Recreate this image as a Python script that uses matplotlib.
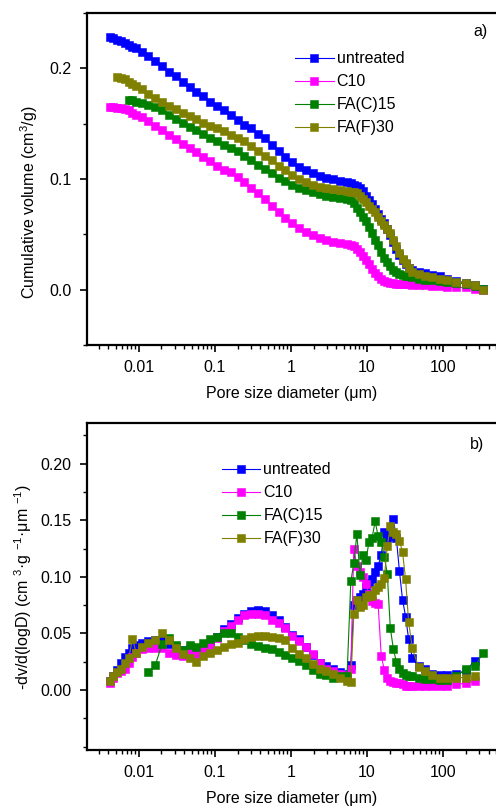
import numpy as np
import matplotlib
matplotlib.use('Agg')
import matplotlib.pyplot as plt
from matplotlib.ticker import FixedLocator, FixedFormatter, LogLocator, MultipleLocator, NullFormatter

plt.rcParams['font.family'] = ['Liberation Sans', 'DejaVu Sans']
plt.rcParams['mathtext.fontset'] = 'custom'
plt.rcParams['mathtext.rm'] = 'Liberation Sans'
plt.rcParams['mathtext.it'] = 'Liberation Sans:italic'

nan = np.nan

# pore diameters (um), shared by all samples
diam = [0.00417, 0.00468, 0.00525, 0.00589, 0.00661, 0.00741, 0.00832, 0.00933,
        0.01096, 0.01349, 0.0166, 0.0204, 0.0251, 0.0309, 0.0380, 0.0468, 0.0575, 0.0708,
        0.0871, 0.107, 0.132, 0.162, 0.200, 0.245, 0.302, 0.372, 0.457, 0.562,
        0.692, 0.851, 1.05, 1.29, 1.58, 1.95, 2.40, 2.95, 3.63, 4.47, 5.50,
        6.17, 6.76, 7.41, 8.13, 8.91, 9.77, 10.7, 11.7, 12.9, 14.1, 15.5, 17.0,
        18.6, 20.4, 22.4, 24.5, 26.9, 29.5, 32.4, 35.5, 39.8,
        47.9, 58.9, 72.4, 91.2, 115, 151, 200, 263, 339]

labels = ['untreated', 'C10', 'FA(C)15', 'FA(F)30']
colors = ['#0000FF', '#FF00FF', '#008000', '#808000']

# a) cumulative volume (cm3/g)
cum_untreated = [0.228, 0.227, 0.226, 0.225, 0.223, 0.221, 0.219, 0.218,
                 0.215, 0.211, 0.207, 0.202, 0.197, 0.193, 0.188, 0.183, 0.179, 0.175,
                 0.170, 0.166, 0.162, 0.158, 0.153, 0.149, 0.146, 0.141, 0.137, 0.131,
                 0.125, 0.120, 0.115, 0.111, 0.108, 0.105, 0.103, 0.101, 0.100, 0.098, 0.097,
                 0.096, 0.095, 0.094, 0.092, 0.089, 0.085, 0.081, 0.077, 0.073, 0.068, 0.064,
                 0.060, 0.055, 0.049, 0.043, 0.037, 0.031, 0.027, 0.023, 0.020, 0.018,
                 0.016, 0.015, 0.013, 0.012, 0.010, 0.008, 0.006, 0.004, 0.001]
cum_c10 = [0.165, 0.165, 0.164, 0.164, 0.163, 0.162, 0.160, 0.158,
           0.156, 0.152, 0.148, 0.144, 0.140, 0.136, 0.132, 0.128, 0.124, 0.120,
           0.116, 0.112, 0.108, 0.106, 0.102, 0.097, 0.092, 0.087, 0.082, 0.076,
           0.070, 0.065, 0.060, 0.056, 0.052, 0.049, 0.047, 0.045, 0.043, 0.042, 0.041,
           0.040, 0.039, 0.037, 0.034, 0.030, 0.027, 0.023, 0.019, 0.015, 0.012, 0.010,
           0.008, 0.007, 0.006, 0.006, 0.005, 0.005, 0.005, 0.005, 0.005, 0.004,
           0.004, 0.004, 0.003, 0.003, 0.002, 0.002, 0.002, 0.001, 0.000]
cum_fac15 = [nan, nan, nan, nan, nan, 0.171, 0.171, 0.170,
             0.169, 0.167, 0.165, 0.162, 0.158, 0.154, 0.151, 0.147, 0.144, 0.141,
             0.137, 0.134, 0.131, 0.128, 0.125, 0.121, 0.117, 0.113, 0.109, 0.105,
             0.101, 0.098, 0.095, 0.092, 0.090, 0.088, 0.086, 0.085, 0.084, 0.083, 0.082,
             0.081, 0.078, 0.074, 0.070, 0.066, 0.062, 0.057, 0.051, 0.045, 0.040, 0.034,
             0.029, 0.025, 0.021, 0.018, 0.016, 0.014, 0.013, 0.012, 0.012, 0.011,
             0.010, 0.009, 0.009, 0.008, 0.007, 0.006, 0.005, 0.003, 0.001]
cum_faf30 = [nan, nan, 0.192, 0.191, 0.190, 0.188, 0.186, 0.184,
             0.181, 0.177, 0.173, 0.170, 0.166, 0.163, 0.160, 0.157, 0.154, 0.151,
             0.148, 0.146, 0.143, 0.140, 0.137, 0.134, 0.130, 0.125, 0.121, 0.117,
             0.112, 0.108, 0.104, 0.100, 0.097, 0.095, 0.093, 0.092, 0.091, 0.090, 0.089,
             0.088, 0.088, 0.087, 0.085, 0.082, 0.079, 0.076, 0.073, 0.070, 0.066, 0.062,
             0.058, 0.055, 0.051, 0.045, 0.039, 0.033, 0.028, 0.024, 0.020, 0.016,
             0.014, 0.012, 0.011, 0.010, 0.009, 0.007, 0.006, 0.004, 0.000]

# b) -dV/d(logD)
dv_untreated = [0.008, 0.012, 0.018, 0.024, 0.029, 0.033, 0.037, 0.040,
                0.042, 0.043, 0.044, 0.044, 0.041, 0.038, 0.035, 0.036, 0.033, 0.036,
                0.041, 0.047, 0.054, 0.058, 0.064, 0.067, 0.070, 0.071, 0.070, 0.066,
                0.062, 0.056, 0.049, 0.045, 0.038, 0.031, 0.024, 0.021, 0.019, 0.016, 0.014,
                0.022, 0.075, 0.080, 0.082, 0.085, 0.091, 0.095, 0.098, 0.104, 0.110, 0.119,
                0.140, 0.134, 0.136, 0.151, 0.134, 0.105, 0.080, 0.065, 0.045, 0.028,
                0.021, 0.019, 0.014, 0.013, 0.013, 0.014, 0.017, 0.026, nan]
dv_c10 = [0.006, 0.011, 0.015, 0.017, 0.019, 0.024, 0.029, 0.033,
          0.036, 0.037, 0.037, 0.037, 0.033, 0.031, 0.030, 0.034, 0.032, 0.035,
          0.040, 0.046, 0.052, 0.057, 0.062, 0.066, 0.067, 0.067, 0.066, 0.062,
          0.059, 0.055, 0.048, 0.043, 0.038, 0.032, 0.024, 0.019, 0.017, 0.014, 0.013,
          0.019, 0.125, 0.110, 0.104, 0.100, 0.094, 0.085, 0.079, 0.077, 0.076, 0.030,
          0.018, 0.011, 0.008, 0.007, 0.006, 0.006, 0.005, 0.004, 0.004, 0.004,
          0.004, 0.004, 0.004, 0.004, 0.004, 0.005, 0.006, 0.008, nan]
dv_fac15 = [nan, nan, nan, nan, nan, nan, nan, nan,
            nan, 0.016, 0.022, 0.041, 0.046, 0.040, 0.035, 0.040, 0.038, 0.042,
            0.045, 0.047, 0.050, 0.050, 0.047, 0.044, 0.041, 0.039, 0.037, 0.036,
            0.034, 0.031, 0.028, 0.026, 0.022, 0.018, 0.014, 0.013, 0.011, 0.012, 0.012,
            0.096, 0.112, 0.138, 0.102, 0.119, 0.115, 0.131, 0.134, 0.149, 0.136, 0.131,
            0.118, 0.103, 0.055, 0.036, 0.025, 0.019, 0.015, 0.013, 0.012, 0.012,
            0.011, 0.010, 0.010, 0.009, 0.009, 0.012, 0.019, 0.021, 0.033]
dv_faf30 = [0.008, 0.012, 0.016, 0.019, 0.024, 0.028, 0.045, 0.033,
            0.038, 0.042, 0.044, 0.050, 0.044, 0.037, 0.032, 0.028, 0.025, 0.030,
            0.033, 0.035, 0.038, 0.041, 0.042, 0.045, 0.047, 0.048, 0.048, 0.047,
            0.046, 0.044, 0.037, 0.032, 0.028, 0.023, 0.019, 0.017, 0.014, 0.011, 0.008,
            0.007, 0.067, 0.080, 0.073, 0.075, 0.082, 0.084, 0.083, 0.088, 0.091, 0.094,
            0.099, 0.127, 0.145, 0.140, 0.138, 0.132, 0.122, 0.098, 0.060, 0.037,
            0.020, 0.017, 0.013, 0.011, 0.011, 0.011, 0.011, 0.012, nan]

xticks = [0.01, 0.1, 1, 10, 100]
xtick_labels = ['0.01', '0.1', '1', '10', '100']


def panel(ax, series, ylim, yticks, ytick_labels, yminor, ylabel, tag, legend_xy):
    """draw one panel in the Origin-like style"""
    for lab, col, y in zip(labels, colors, series):
        ax.plot(diam, y, '-s', color=col, lw=0.8, ms=5.2, mec=col, mew=0.4,
                label=lab)
    ax.set_xscale('log')
    ax.set_xlim(0.0021, 500)
    ax.set_ylim(*ylim)
    ax.xaxis.set_major_locator(FixedLocator(xticks))
    ax.xaxis.set_major_formatter(FixedFormatter(xtick_labels))
    ax.xaxis.set_minor_locator(LogLocator(base=10, subs=np.arange(2, 10)))
    ax.xaxis.set_minor_formatter(NullFormatter())
    ax.yaxis.set_major_locator(FixedLocator(yticks))
    ax.yaxis.set_major_formatter(FixedFormatter(ytick_labels))
    ax.yaxis.set_minor_locator(MultipleLocator(yminor))
    ax.tick_params(which='major', direction='out', length=5, width=1.2,
                   labelsize=11.5, pad=6)
    ax.tick_params(which='minor', direction='out', length=3, width=1.0)
    ax.tick_params(axis='x', which='both', top=False)
    ax.tick_params(axis='y', which='both', right=False)
    for s in ['left', 'bottom', 'top']:
        ax.spines[s].set_linewidth(1.6)
    ax.spines['right'].set_visible(False)
    ax.set_xlabel('Pore size diameter (μm)', fontsize=11.5, labelpad=8)
    ax.set_ylabel(ylabel, fontsize=11.5)
    ax.text(tag[1], tag[2], tag[0], transform=ax.transAxes, fontsize=11.5,
            ha='center', va='center')
    ax.legend(loc='upper left', bbox_to_anchor=legend_xy, frameon=False,
              fontsize=11.5, numpoints=1, handlelength=2.4, handletextpad=0.2,
              labelspacing=0.5, borderpad=0, borderaxespad=0)


fig = plt.figure(figsize=(4.96, 8.07), dpi=100)
ax1 = fig.add_axes([0.1754, 0.5725, 0.8246, 0.4114])
ax2 = fig.add_axes([0.1754, 0.0706, 0.8246, 0.4052])

panel(ax1, [cum_untreated, cum_c10, cum_fac15, cum_faf30], (-0.05, 0.25),
      [0.0, 0.1, 0.2], ['0.0', '0.1', '0.2'], 0.05,
      'Cumulative volume (cm$^{3}$/g)', ('a)', 0.961, 0.943), (0.509, 0.885))
ax1.yaxis.set_label_coords(-0.115, 0.431)

panel(ax2, [dv_untreated, dv_c10, dv_fac15, dv_faf30], (-0.053, 0.236),
      [0.0, 0.05, 0.10, 0.15, 0.20], ['0.00', '0.05', '0.10', '0.15', '0.20'], 0.025,
      '-dv/d(logD) (cm $^{3}$·g $^{-1}$·μm $^{-1}$)', ('b)', 0.954, 0.935), (0.330, 0.880))
ax2.yaxis.set_label_coords(-0.129, 0.497)

fig.savefig('out.png', dpi=100)
